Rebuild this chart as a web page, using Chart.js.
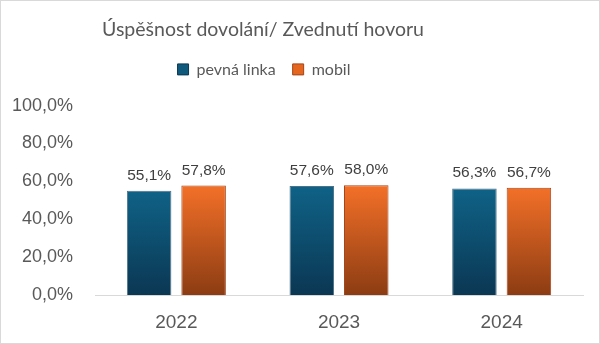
<!DOCTYPE html>
<html lang="cs">
<head>
  <meta charset="UTF-8">
  <title>Úspěšnost dovolání</title>
  <style>
    html, body { margin: 0; padding: 0; background: #ffffff; }
    .ramecek {
      width: 600px;
      height: 344px;
      box-sizing: border-box;
      border: 1px solid #d9d9d9;
      background: #ffffff;
    }
    .ramecek canvas { display: block; }
  </style>
</head>
<body>
  <div class="ramecek">
    <canvas id="graf" width="598" height="342"></canvas>
  </div>

<script src="https://cdn.jsdelivr.net/npm/chart.js"></script>
<script>
  // data z grafu
  const roky = ['2022', '2023', '2024'];
  const pevnaLinka = [55.1, 57.6, 56.3];
  const mobil = [57.8, 58.0, 56.7];
  const osaY = [0, 20, 40, 60, 80, 100];

  const titulek = 'Úspěšnost dovolání/ Zvednutí hovoru';
  // Excel má nadpis i legendu posunuté doleva od středu
  const stredNadpisu = 262;
  const stredLegendy = 263;

  const SEDA = '#595959';
  const PISMO = '"Liberation Sans", Arial, sans-serif';

  function formatProcent(v) {
    return v.toFixed(1).replace('.', ',') + '%';
  }

  // gradient na každý sloupec zvlášť (od vrchu sloupce dolů)
  function gradient(horni, dolni) {
    return function (c) {
      const chart = c.chart;
      const area = chart.chartArea;
      if (!area || c.raw === undefined) return horni;
      const top = chart.scales.y.getPixelForValue(c.raw);
      const g = chart.ctx.createLinearGradient(0, top, 0, area.bottom);
      g.addColorStop(0, horni);
      g.addColorStop(1, dolni);
      return g;
    };
  }

  // popisky hodnot nad sloupci
  const popisky = {
    id: 'popisky',
    afterDatasetsDraw(chart) {
      const ctx = chart.ctx;
      ctx.save();
      ctx.font = '15.5px ' + PISMO;
      ctx.fillStyle = '#404040';
      ctx.textAlign = 'center';
      ctx.textBaseline = 'alphabetic';
      chart.data.datasets.forEach((ds, i) => {
        chart.getDatasetMeta(i).data.forEach((el, j) => {
          ctx.fillText(formatProcent(ds.data[j]), el.x, el.y - 11);
        });
      });
      ctx.restore();
    }
  };

  // posun nadpisu a legendy
  const posunStredu = {
    id: 'posunStredu',
    afterLayout(chart) {
      if (chart.titleBlock) chart.titleBlock.right = 2 * stredNadpisu - chart.titleBlock.left;
      if (chart.legend) chart.legend.right = 2 * stredLegendy - chart.legend.left;
    }
  };

  new Chart(document.getElementById('graf'), {
    type: 'bar',
    data: {
      labels: roky,
      datasets: [
        {
          label: 'pevná linka',
          data: pevnaLinka,
          backgroundColor: gradient('#0f6287', '#0b3753'),
          borderColor: '#4d7288',
          borderWidth: 1,
          barPercentage: 0.817,
          categoryPercentage: 0.67
        },
        {
          label: 'mobil',
          data: mobil,
          backgroundColor: gradient('#f37028', '#8c3c13'),
          borderColor: '#a4441a',
          borderWidth: 1,
          barPercentage: 0.817,
          categoryPercentage: 0.67
        }
      ]
    },
    options: {
      responsive: false,
      animation: false,
      layout: { padding: { left: -11, right: 16, top: 0, bottom: -7 } },
      plugins: {
        title: {
          display: true,
          text: titulek,
          color: SEDA,
          font: { family: 'Lato, sans-serif', size: 19.5, weight: 'normal' },
          padding: { top: 17, bottom: 3 }
        },
        // prázdný podtitulek jen jako mezera mezi legendou a grafem
        subtitle: {
          display: true,
          text: '',
          weight: 500,
          font: { size: 1 },
          padding: { top: 0, bottom: 17 }
        },
        legend: {
          display: true,
          labels: {
            color: SEDA,
            font: { family: 'Lato, sans-serif', size: 16 },
            boxWidth: 11,
            boxHeight: 11,
            padding: 17,
            generateLabels(chart) {
              const barvy = [['#0f5a7c', '#0b3753'], ['#e5671f', '#a4441a']];
              return chart.data.datasets.map((ds, i) => ({
                text: ds.label,
                fillStyle: barvy[i][0],
                strokeStyle: barvy[i][1],
                lineWidth: 1,
                fontColor: SEDA,
                datasetIndex: i,
                hidden: false
              }));
            }
          }
        },
        tooltip: { enabled: false }
      },
      scales: {
        x: {
          grid: { display: false, drawTicks: false },
          border: { display: true, color: '#d9d9d9', width: 1 },
          ticks: {
            color: SEDA,
            font: { family: PISMO, size: 19 },
            padding: 16
          }
        },
        y: {
          min: 0,
          max: 100,
          afterBuildTicks(axis) {
            axis.ticks = osaY.map(v => ({ value: v }));
          },
          grid: { display: false, drawTicks: false },
          border: { display: false },
          ticks: {
            color: SEDA,
            font: { family: PISMO, size: 18 },
            padding: 22,
            callback: v => formatProcent(v)
          }
        }
      }
    },
    plugins: [popisky, posunStredu]
  });
</script>
</body>
</html>
